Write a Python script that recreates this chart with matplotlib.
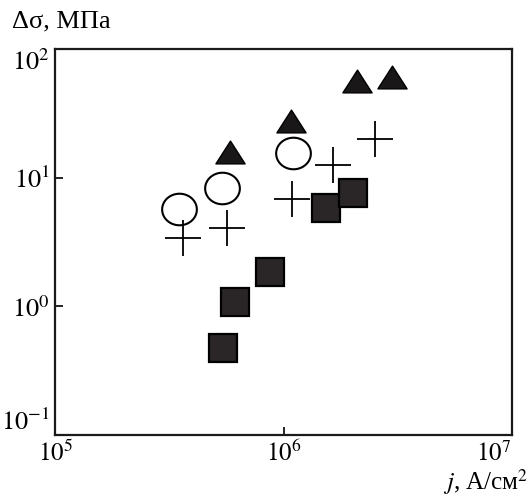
import matplotlib
matplotlib.use('Agg')
import matplotlib.pyplot as plt
import numpy as np
from matplotlib.path import Path

plt.rcParams['font.family'] = 'Liberation Serif'
plt.rcParams['mathtext.fontset'] = 'stix'

# current density, A/cm2, and stress jump, MPa
sq_j = [5.43e5, 6.13e5, 8.72e5, 1.54e6, 2.02e6]
sq_s = [0.475, 1.08, 1.85, 5.82, 7.6]

circ_j = [3.48e5, 5.37e5, 1.10e6]
circ_s = [5.71, 8.32, 15.6]

plus_j = [3.62e5, 5.65e5, 1.09e6, 1.65e6, 2.52e6]
plus_s = [3.40, 4.07, 6.83, 12.6, 20.0]

tri_j = [5.83e5, 1.08e6, 2.10e6, 2.98e6]
tri_s = [15.8, 27.6, 56.4, 60.1]

# slightly flattened marker shapes
t = np.linspace(0, 2 * np.pi, 60)
ellipse = Path(np.c_[1.1 * np.cos(t), np.sin(t)], closed=True)
triangle = Path([(-1, -0.78), (1, -0.78), (0, 0.78), (-1, -0.78)], closed=True)

fig = plt.figure(figsize=(5.29, 4.98), dpi=100)
ax = fig.add_axes([0.1049, 0.1265, 0.8624, 0.7751])

ax.plot(sq_j, sq_s, ls='none', marker='s', ms=20, mfc='#2a2627', mec='black', mew=1.6)
ax.plot(circ_j, circ_s, ls='none', marker=ellipse, ms=25, mfc='none', mec='black', mew=1.5)
ax.plot(plus_j, plus_s, ls='none', marker='+', ms=26, mec='black', mew=1.3)
ax.plot(tri_j, tri_s, ls='none', marker=triangle, ms=21, mfc='#1a1718', mec='black', mew=1)

ax.set_xscale('log')
ax.set_yscale('log')
ax.set_xlim(1e5, 1e7)
ax.set_ylim(1e-1, 1e2)
ax.set_xticks([1e5, 1e6, 1e7])
ax.set_yticks([1e-1, 1e0, 1e1, 1e2])
ax.set_xticklabels(['$10^5$', '$10^6$', '$10^7$'])
ax.set_yticklabels(['$10^{-1}$', '$10^0$', '$10^1$', '$10^2$'])
ax.minorticks_off()
ax.tick_params(direction='in', length=6, width=1.2, labelsize=19, pad=4)
ax.tick_params(axis='x', labelsize=18, pad=4)
# keep the corner labels clear of each other
ylabels = ax.get_yticklabels()
ylabels[0].set_va('bottom')
ylabels[-1].set_va('top')
ax.get_xticklabels()[-1].set_ha('right')
for s in ax.spines.values():
    s.set_linewidth(1.6)
    s.set_color('#1a1a1a')

fig.text(0.022, 0.957, 'Δσ, МПа', fontsize=19, ha='left', va='center')
fig.text(0.998, 0.002, r'$\mathit{j}$, А/см$^2$', fontsize=18, ha='right', va='bottom')

fig.savefig('out.png', dpi=100)
